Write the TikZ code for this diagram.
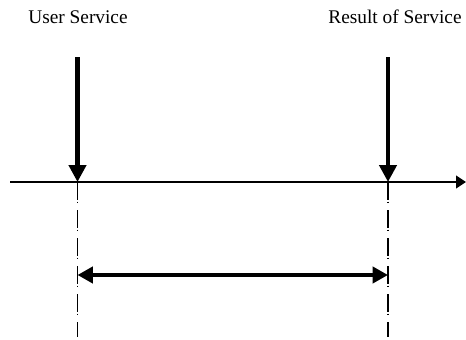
\documentclass[tikz,border=0pt]{standalone}
\usepackage{fontspec}
\setmainfont{Liberation Serif}
\usetikzlibrary{arrows.meta}
\begin{document}
\begin{tikzpicture}[x=0.75pt,y=-0.75pt,
  lbl/.style={anchor=base,inner sep=0pt,font=\fontsize{14.5pt}{17pt}\selectfont},
  event/.style={line width=3.6pt,-{Triangle[length=12.75pt,width=12.75pt]}},
  axis/.style={line width=1.5pt,-{Triangle[length=7.5pt,width=9.5pt]}},
  span/.style={line width=3.6pt,{Triangle[length=11.5pt,width=12pt]}-{Triangle[length=11.5pt,width=12pt]}},
  guide/.style={line width=1.1pt,dash pattern=on 13.5pt off 1.2pt on 1pt off 5.3pt}]
\useasboundingbox (0,0) rectangle (466,339);
\node[lbl] (us) at (78,23) {User Service};
\node[lbl] (rs) at (395,23) {Result of Service};
\coordinate (a0) at (10,182);
\coordinate (a1) at (466,182);
\coordinate (u0) at (77.5,57);
\coordinate (u1) at (77.5,182);
\coordinate (r0) at (388,57);
\coordinate (r1) at (388,182);
\coordinate (ub) at (77.5,337);
\coordinate (rb) at (388,337);
\coordinate (s0) at (77.5,275);
\coordinate (s1) at (388,275);
\draw[axis] (a0) -- (a1);
\draw[guide] (u1) -- (ub);
\draw[guide] (r1) -- (rb);
\draw[event] (u0) -- (u1);
\draw[event] (r0) -- (r1);
\draw[span] (s0) -- (s1);
\end{tikzpicture}
\end{document}
